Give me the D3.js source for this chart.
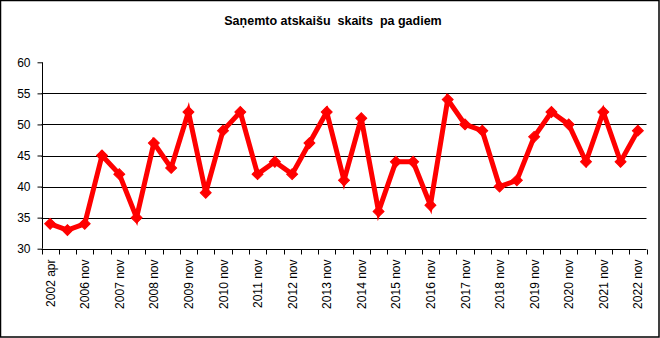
<!DOCTYPE html>
<html>
<head>
<meta charset="utf-8">
<script src="https://cdn.jsdelivr.net/npm/d3@7"></script>
<style>
  html, body { margin: 0; padding: 0; background: #fff; }
  svg { display: block; }
  text { font-family: Arial, "Liberation Sans", sans-serif; }
</style>
</head>
<body>
<svg id="chart" width="660" height="338"></svg>
<script>
// Reporting periods (only every second one gets a visible label)
const categories = [
  "2002 apr", "2006 apr", "2006 nov", "2007 apr", "2007 nov", "2008 apr", "2008 nov",
  "2009 apr", "2009 nov", "2010 apr", "2010 nov", "2011 apr", "2011 nov",
  "2012 apr", "2012 nov", "2013 apr", "2013 nov", "2014 apr", "2014 nov",
  "2015 apr", "2015 nov", "2016 apr", "2016 nov", "2017 apr", "2017 nov",
  "2018 apr", "2018 nov", "2019 apr", "2019 nov", "2020 apr", "2020 nov",
  "2021 apr", "2021 nov", "2022 apr", "2022 nov"
];
// Number of received reports per period
const values = [
  34, 33, 34, 45, 42, 35, 47, 43, 52, 39, 49, 52, 42, 44, 42, 47, 52, 41,
  51, 36, 44, 44, 37, 54, 50, 49, 40, 41, 48, 52, 50, 44, 52, 44, 49
];
const yTicks = [30, 35, 40, 45, 50, 55, 60];
const gridValues = [35, 40, 45, 50, 55];
const title = "Saņemto atskaišu  skaits  pa gadiem";

const svg = d3.select("#chart");
const W = 660, H = 338;
const plot = { left: 41.5, right: 646.5, top: 62.3, bottom: 248.7 };

// Outer frame
svg.append("rect")
  .attr("x", 0.5).attr("y", 0.5)
  .attr("width", W - 1.5).attr("height", H - 1.5)
  .attr("fill", "#fff").attr("stroke", "#000").attr("stroke-width", 1.5);

// Title
svg.append("text")
  .attr("x", 333).attr("y", 25)
  .attr("text-anchor", "middle")
  .attr("font-size", 12.5).attr("font-weight", "bold")
  .style("white-space", "pre")
  .attr("fill", "#000")
  .text(title);

const x = d3.scaleBand()
  .domain(categories)
  .range([plot.left, plot.right])
  .paddingInner(0).paddingOuter(0);

const y = d3.scaleLinear()
  .domain([30, 60])
  .range([plot.bottom, plot.top]);

// Horizontal gridlines
svg.append("g")
  .selectAll("line")
  .data(gridValues)
  .join("line")
  .attr("x1", plot.left).attr("x2", plot.right)
  .attr("y1", d => Math.round(y(d)) + 0.5)
  .attr("y2", d => Math.round(y(d)) + 0.5)
  .attr("stroke", "#000").attr("stroke-width", 1);

// Y axis
const yAxis = d3.axisLeft(y).tickValues(yTicks).tickSize(5).tickPadding(7);
const gy = svg.append("g")
  .attr("transform", `translate(${Math.round(plot.left) + 0.5},0)`)
  .call(yAxis);
gy.selectAll("text").attr("font-size", 12).attr("fill", "#000")
  .attr("font-family", "Arial, 'Liberation Sans', sans-serif");
gy.selectAll("line,path").attr("stroke", "#000");
gy.select(".domain").attr("d", `M0,${y(60)}V${y(30)}`);

// X axis: ticks between categories, labels every second category
const gx = svg.append("g")
  .attr("transform", `translate(0,${Math.round(plot.bottom) + 0.5})`);
gx.append("line")
  .attr("x1", plot.left).attr("x2", plot.right)
  .attr("stroke", "#000");
const boundaries = categories.map(c => x(c)).concat([x(categories[categories.length - 1]) + x.bandwidth()]);
gx.selectAll("line.tick")
  .data(boundaries)
  .join("line")
  .attr("class", "tick")
  .attr("x1", d => Math.round(d) + 0.5).attr("x2", d => Math.round(d) + 0.5)
  .attr("y1", 0).attr("y2", 5)
  .attr("stroke", "#000");
gx.selectAll("text")
  .data(categories.filter((c, i) => i % 2 === 0))
  .join("text")
  .attr("transform", d => `translate(${x(d) + x.bandwidth() / 2 + 4.5},10) rotate(-90)`)
  .attr("text-anchor", "end")
  .attr("font-size", 12)
  .attr("fill", "#000")
  .text(d => d);

// Series line
const cx = (d, i) => x(categories[i]) + x.bandwidth() / 2;
const line = d3.line()
  .x((d, i) => cx(d, i))
  .y(d => y(d));
svg.append("path")
  .datum(values)
  .attr("d", line)
  .attr("fill", "none")
  .attr("stroke", "#ff0000")
  .attr("stroke-width", 5)
  .attr("stroke-linejoin", "miter");

// Diamond markers
const diamond = d3.symbol().type(d3.symbolSquare).size(60);
svg.append("g")
  .selectAll("path")
  .data(values)
  .join("path")
  .attr("d", diamond)
  .attr("transform", (d, i) => `translate(${cx(d, i)},${y(d)}) rotate(45)`)
  .attr("fill", "#ff0000")
  .attr("stroke", "#ff0000")
  .attr("stroke-width", 1);
</script>
</body>
</html>
